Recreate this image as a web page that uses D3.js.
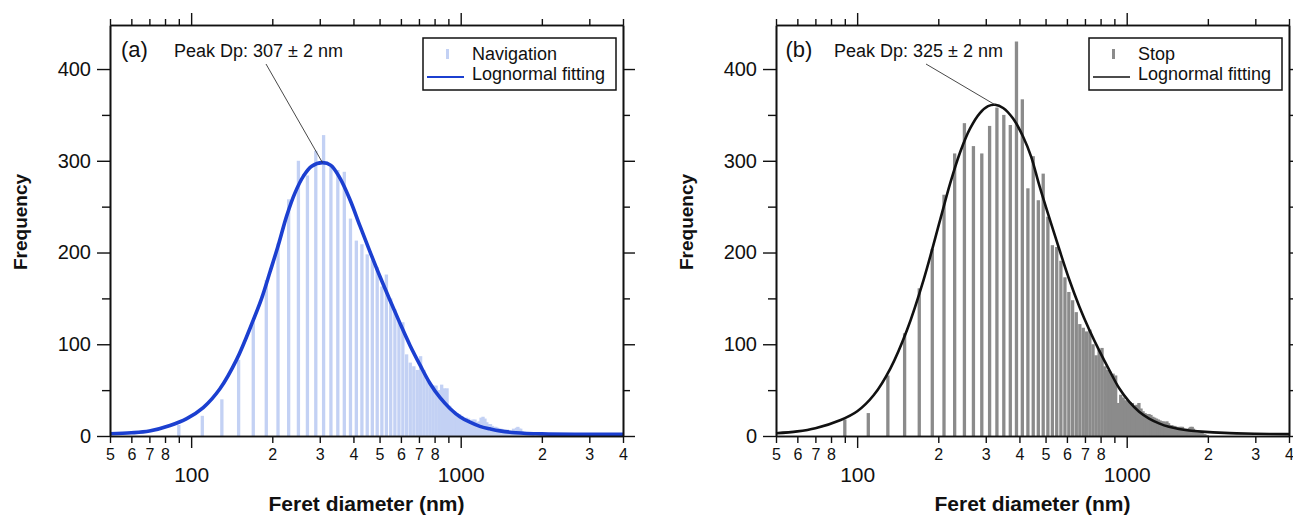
<!DOCTYPE html>
<html>
<head>
<meta charset="utf-8">
<script src="https://cdn.jsdelivr.net/npm/d3@7"></script>
<style>
  body { margin: 0; background: #fff; }
  svg { display: block; }
  text { font-family: "Liberation Sans", Arial, Helvetica, sans-serif; fill: #111; }
</style>
</head>
<body>
<svg id="chart" width="1293" height="515"></svg>
<script>
// Histogram bin centres (nm), 20 nm wide bins
const binCenters = [
  90, 110, 130, 150, 170, 190, 210, 230, 250, 270,
  290, 310, 330, 350, 370, 390, 410, 430, 450, 470,
  490, 510, 530, 550, 570, 590, 610, 630, 650, 670,
  690, 710, 730, 750, 770, 790, 810, 830, 850, 870,
  890, 910, 930, 950, 970, 990, 1010, 1030, 1050, 1070,
  1090, 1110, 1130, 1150, 1170, 1190, 1210, 1230, 1250, 1270,
  1290, 1310, 1330, 1350, 1370, 1390, 1410, 1430, 1450, 1470,
  1490, 1510, 1530, 1550, 1570, 1590, 1610, 1630, 1650, 1670,
  1690, 1710, 1730, 1750, 1770, 1790, 1810, 1830, 1850, 1870,
  1890, 1910, 1930, 1950, 1970, 1990
];

// Counts per bin, navigation period
const navigationCounts = [
  12, 22, 40, 83, 126, 170, 210, 258, 300, 284,
  311, 328, 294, 290, 288, 237, 213, 209, 198, 192,
  184, 163, 176, 150, 138, 125, 124, 89, 80, 76,
  72, 87, 72, 61, 58, 55, 55, 50, 56, 52,
  52, 33, 27, 27, 25, 24, 22, 19, 20, 19,
  17, 18, 18, 15, 16, 20, 21, 19, 15, 13,
  13, 11, 10, 10, 9, 8, 8, 7, 7, 6,
  7, 6, 5, 6, 8, 7, 9, 10, 8, 8,
  5, 4, 3, 3, 2, 2, 1, 1, 1, 0,
  0, 0, 0, 0, 0, 0
];

// Counts per bin, stop period
const stopCounts = [
  18, 25, 66, 112, 161, 204, 263, 308, 341, 316,
  308, 338, 358, 350, 339, 430, 367, 270, 305, 257,
  286, 239, 208, 206, 191, 173, 157, 148, 135, 122,
  118, 114, 116, 100, 88, 94, 96, 76, 72, 70,
  68, 66, 36, 45, 42, 39, 38, 37, 36, 33,
  34, 36, 30, 27, 25, 24, 24, 23, 21, 20,
  19, 18, 17, 16, 16, 15, 16, 14, 12, 12,
  11, 11, 10, 9, 10, 10, 10, 8, 8, 7,
  8, 9, 10, 10, 8, 6, 5, 5, 5, 5,
  4, 3, 2, 2, 1, 1
];

// Lognormal fit curves: [diameter nm, frequency]
const navigationFit = [
  [50, 2.5], [60, 3.5], [70, 5.5], [83.5, 11.5], [96.3, 19], [110.9, 31],
  [127.9, 51.5], [147.6, 83.5], [170.1, 126.5], [182.6, 150], [196.2, 179],
  [210.5, 208], [226.2, 240], [242.8, 265], [260.6, 283], [280, 294],
  [307, 298], [330, 295], [356.5, 281], [388.4, 257.5], [422.9, 229],
  [460.6, 201], [501.7, 173.8], [546.5, 148], [595, 123], [648, 99],
  [706, 77.5], [768.5, 57.5], [837, 42], [912, 30], [993, 21], [1082, 15],
  [1178, 10.5], [1283, 7.8], [1398, 5.6], [1600, 3.6], [2000, 2.3],
  [3000, 1.8], [4000, 1.8]
];
const stopFit = [
  [50, 3], [60, 5], [70, 8.5], [86.9, 17.5], [100.1, 27], [115.3, 44.7],
  [132.9, 73.8], [153.1, 115.6], [176.3, 170], [203.2, 235.6], [221.2, 275],
  [240.8, 309], [262.2, 335], [285.4, 352], [306, 359.5], [325, 361],
  [348, 357.5], [378.8, 346], [412.4, 326.5], [442.6, 304], [475.2, 272],
  [563, 203], [613, 170], [667.5, 141], [727, 115.6], [791, 93], [861, 72],
  [938, 52], [1021, 37.4], [1112, 26.5], [1211, 19], [1318, 13.8],
  [1435, 10], [1563, 7.6], [1702, 6], [1897, 4.8], [2300, 3.4],
  [3000, 2.5], [4000, 2]
];

// Fitted peak diameters and their uncertainty (nm)
const peakDiameters = [307, 325];
const peakErrors = [2, 2];

// Axis ticks
const xDomain = [50, 4000];
const yDomain = [0, 448];
const xMajorTicks = [100, 1000];
const xMinorTicks = [50, 60, 70, 80, 90, 200, 300, 400, 500, 600, 700, 800, 900, 2000, 3000, 4000];
const xMinorUnlabelled = [90, 900];
const yMajorTicks = [0, 100, 200, 300, 400];
const yMinorTicks = [50, 150, 250, 350];

const panels = [
  {
    tag: "(a)", series: "Navigation", counts: navigationCounts, fit: navigationFit,
    peak: peakDiameters[0], err: peakErrors[0],
    left: 110, right: 623, barColor: "#c3d1f4", lineColor: "#1b3fd0", lineWidth: 3.6,
    labelDx: 64, tagDx: 11
  },
  {
    tag: "(b)", series: "Stop", counts: stopCounts, fit: stopFit,
    peak: peakDiameters[1], err: peakErrors[1],
    left: 776, right: 1289, barColor: "#8b8b8b", lineColor: "#111", lineWidth: 2.6,
    labelDx: 58, tagDx: 9.5
  }
];

const plotTop = 25, plotBottom = 436;
const svg = d3.select("#chart");

panels.forEach(p => {
  const x = d3.scaleLog().domain(xDomain).range([p.left, p.right]);
  const y = d3.scaleLinear().domain(yDomain).range([plotBottom, plotTop]);
  const g = svg.append("g");

  // histogram sticks
  const bins = binCenters.map((d, i) => ({ d, v: p.counts[i] })).filter(b => b.v > 0);
  g.append("g").selectAll("rect").data(bins).join("rect")
    .attr("x", b => x(b.d) - 1.65)
    .attr("width", 3.3)
    .attr("y", b => y(b.v))
    .attr("height", b => y(0) - y(b.v))
    .attr("fill", p.barColor);

  // lognormal fit
  const line = d3.line().x(d => x(d[0])).y(d => y(d[1])).curve(d3.curveCatmullRom.alpha(0.5));
  g.append("path").datum(p.fit)
    .attr("d", line)
    .attr("fill", "none")
    .attr("stroke", p.lineColor)
    .attr("stroke-width", p.lineWidth)
    .attr("stroke-linejoin", "round");

  // peak annotation
  const peakPoint = p.fit.find(d => d[0] === p.peak);
  const labelX = p.left + p.labelDx, labelY = 57;
  g.append("line")
    .attr("x1", labelX + 92).attr("y1", labelY + 7)
    .attr("x2", x(peakPoint[0])).attr("y2", y(peakPoint[1]))
    .attr("stroke", "#333").attr("stroke-width", 0.9);
  g.append("text")
    .attr("x", labelX).attr("y", labelY)
    .attr("font-size", 18)
    .text(`Peak Dp: ${p.peak} \u00b1 ${p.err} nm`);

  g.append("text")
    .attr("x", p.left + p.tagDx).attr("y", 57)
    .attr("font-size", 22)
    .text(p.tag);

  // legend
  const lx = p.right - 200, ly = 38, lw = 193, lh = 52;
  const lg = g.append("g");
  lg.append("rect").attr("x", lx).attr("y", ly).attr("width", lw).attr("height", lh)
    .attr("fill", "#fff").attr("stroke", "#111").attr("stroke-width", 1.5);
  lg.append("rect").attr("x", lx + 23).attr("y", ly + 11).attr("width", 3).attr("height", 10)
    .attr("fill", p.barColor);
  lg.append("line").attr("x1", lx + 4).attr("x2", lx + 41)
    .attr("y1", ly + 39).attr("y2", ly + 39)
    .attr("stroke", p.lineColor).attr("stroke-width", p.lineWidth * 0.6);
  lg.append("text").attr("x", lx + 49).attr("y", ly + 21.5).attr("font-size", 18).text(p.series);
  lg.append("text").attr("x", lx + 49).attr("y", ly + 41.5).attr("font-size", 18).text("Lognormal fitting");

  // axes
  const minorFmt = d => xMinorUnlabelled.includes(d) ? "" : String(d)[0];
  const styleAxis = sel => {
    sel.selectAll("path, line").attr("stroke", "#111").attr("stroke-width", 1.4);
    sel.select(".domain").attr("stroke-width", 1.6);
  };

  g.append("g").attr("transform", `translate(0,${plotBottom})`)
    .call(d3.axisBottom(x).tickValues(xMinorTicks).tickSize(7).tickSizeOuter(0)
      .tickPadding(5.5).tickFormat(minorFmt))
    .call(styleAxis)
    .call(s => s.selectAll("text").attr("font-size", 16).attr("fill", "#111"));
  g.append("g").attr("transform", `translate(0,${plotBottom})`)
    .call(d3.axisBottom(x).tickValues(xMajorTicks).tickSize(12).tickSizeOuter(0)
      .tickPadding(19).tickFormat(d3.format("d")))
    .call(styleAxis)
    .call(s => s.selectAll("text").attr("font-size", 21).attr("fill", "#111"));

  g.append("g").attr("transform", `translate(0,${plotTop})`)
    .call(d3.axisTop(x).tickValues(xMinorTicks).tickSize(6).tickSizeOuter(0).tickFormat(""))
    .call(styleAxis);
  g.append("g").attr("transform", `translate(0,${plotTop})`)
    .call(d3.axisTop(x).tickValues(xMajorTicks).tickSize(12).tickSizeOuter(0).tickFormat(""))
    .call(styleAxis);

  g.append("g").attr("transform", `translate(${p.left},0)`)
    .call(d3.axisLeft(y).tickValues(yMajorTicks).tickSize(13).tickSizeOuter(0).tickPadding(6))
    .call(styleAxis)
    .call(s => s.selectAll("text").attr("font-size", 20).attr("fill", "#111"));
  g.append("g").attr("transform", `translate(${p.left},0)`)
    .call(d3.axisLeft(y).tickValues(yMinorTicks).tickSize(8).tickSizeOuter(0).tickFormat(""))
    .call(styleAxis);

  g.append("g").attr("transform", `translate(${p.right},0)`)
    .call(d3.axisRight(y).tickValues(yMajorTicks).tickSize(12).tickSizeOuter(0).tickFormat(""))
    .call(styleAxis);
  g.append("g").attr("transform", `translate(${p.right},0)`)
    .call(d3.axisRight(y).tickValues(yMinorTicks).tickSize(7).tickSizeOuter(0).tickFormat(""))
    .call(styleAxis);

  // axis titles
  g.append("text")
    .attr("x", (p.left + p.right) / 2).attr("y", 511)
    .attr("text-anchor", "middle").attr("font-size", 21).attr("font-weight", "bold")
    .text("Feret diameter (nm)");
  g.append("text")
    .attr("transform", `translate(${p.left - 83},222) rotate(-90)`)
    .attr("text-anchor", "middle").attr("font-size", 19).attr("font-weight", "bold")
    .text("Frequency");
});
</script>
</body>
</html>
